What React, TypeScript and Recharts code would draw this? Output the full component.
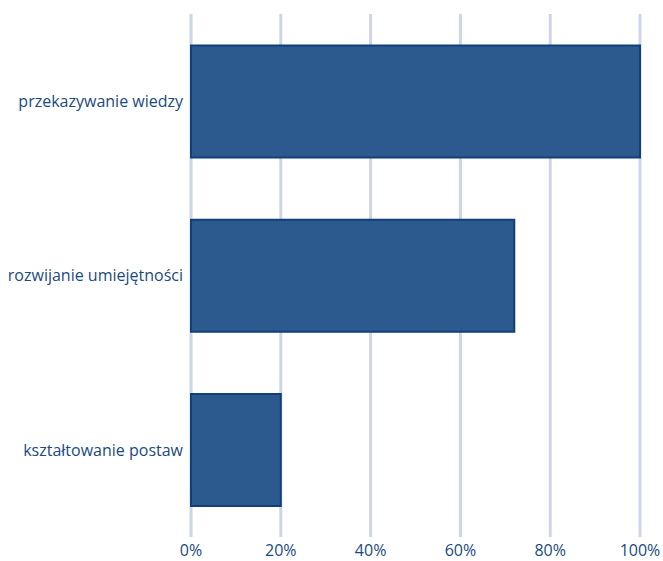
import { Bar, BarChart, CartesianGrid, XAxis, YAxis } from "recharts"

const categories = ["przekazywanie wiedzy", "rozwijanie umiejętności", "kształtowanie postaw"]
const shares = [100, 72, 20]
const xTicks = [0, 20, 40, 60, 80, 100]

const data = categories.map((name, i) => ({ name, value: shares[i] }))

const textColor = "#1b4a82"

function App() {
  return (
    <div style={{ position: "absolute", left: 0, top: 0 }}>
      <BarChart
        width={663}
        height={561}
        data={data}
        layout="vertical"
        barCategoryGap="18%"
        margin={{ top: 14, right: 23, left: 0, bottom: 0 }}
        style={{ fontFamily: "'Open Sans', sans-serif" }}
      >
        <CartesianGrid horizontal={false} stroke="#cdd5e6" strokeWidth={3} />
        <XAxis
          type="number"
          domain={[0, 100]}
          ticks={xTicks}
          tickFormatter={(v) => v + "%"}
          axisLine={false}
          tickLine={false}
          height={24}
          interval={0}
          tick={{ fill: textColor, fontSize: 16 }}
        />
        <YAxis
          type="category"
          dataKey="name"
          width={191}
          axisLine={false}
          tickLine={false}
          tick={{ fill: textColor, fontSize: 16 }}
        />
        <Bar dataKey="value" fill="#2c5a8f" stroke="#0f4079" strokeWidth={2} isAnimationActive={false} />
      </BarChart>
    </div>
  )
}

export default App
